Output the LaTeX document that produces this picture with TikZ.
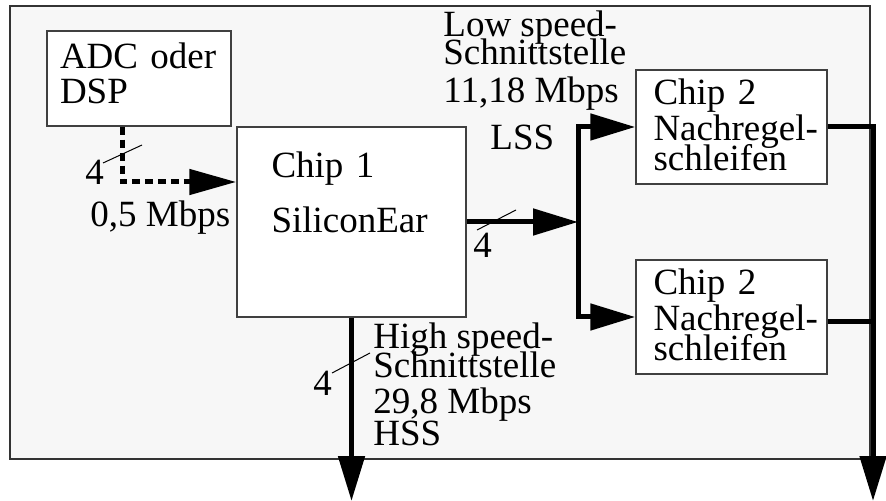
\documentclass[tikz,border=0pt]{standalone}
\usepackage{fontspec}
\setmainfont{Liberation Serif}
\usetikzlibrary{arrows.meta}
\usetikzlibrary{calc}

\begin{document}
\begin{tikzpicture}[x=0.5pt, y=-0.5pt,
    every node/.style={font=\fontsize{18.5pt}{18pt}\selectfont, inner sep=0pt},
    box/.style={draw=black!75, fill=white, line width=0.75pt, align=left},
    txt/.style={anchor=base west, align=left},
    bus/.style={line width=2.5pt},
    tip/.style={-{Triangle[length=22.5pt, width=13pt]}},
    ctrl/.style={line width=2.5pt, dash pattern=on 4pt off 2.5pt},
    slash/.style={line width=0.5pt}]
    \useasboundingbox (0,0) rectangle (886,501);
    \draw[draw=black!80, fill=black!3, line width=0.75pt] (10,6) rectangle (870,459);

    % boxes
    \node[box, minimum width=92pt, minimum height=47.5pt, text width=79pt, text depth=23pt] (adc) at (139,78.5) {ADC oder\\[-0.5pt]DSP};
    \node[box, minimum width=114.5pt, minimum height=95pt, text width=80pt, text depth=57.5pt] (chip1) at (351.5,222) {Chip 1\\[9.5pt]SiliconEar};
    \node[box, minimum width=95.5pt, minimum height=57pt, text width=78pt, text depth=35.5pt] (chip2a) at (731.5,127) {Chip 2\\\mbox{Nachregel-}\\[-3pt]schleifen};
    \node[box, minimum width=95.5pt, minimum height=57pt, text width=78pt, text depth=35.5pt] (chip2b) at (731.5,317) {Chip 2\\\mbox{Nachregel-}\\[-3pt]schleifen};

    \coordinate (bus) at (578,222);
    \coordinate (hssout) at (351.5,501);
    \coordinate (out) at (873,501);

    % connections
    \draw[ctrl, -{Triangle[length=23.5pt, width=12.5pt]}] ($(adc.south)+(-17,0)$) |- ($(chip1.west)+(0,-40)$);
    \draw[bus, tip] (chip1.east) -- (bus);
    \draw[bus, tip] (bus) |- (chip2a.west);
    \draw[bus, tip] (bus) |- (chip2b.west);
    \draw[bus, tip] (chip1.south) -- (hssout);
    \draw[bus, tip] (chip2a.east) -| (out);
    \draw[bus] ([yshift=-2.5pt]chip2b.east) -- ([yshift=-2.5pt]chip2b.east -| out);

    % bus width marks
    \draw[slash] (103,163) -- (142,145);
    \draw[slash] (477,230) -- (516,210);
    \draw[slash] (332,373) -- (370,353);
    \node[txt] (w1) at (85,185) {4};
    \node[txt] (w2) at (473,258) {4};
    \node[txt] (w3) at (313,395) {4};

    % labels
    \node[txt] (rate1) at (90,227) {0,5 Mbps};
    \node[txt] (lsstext) at (443,103) {Low speed-\\[-4pt]Schnittstelle\\[1pt]11,18 Mbps};
    \node[txt] (lss) at (490,150) {LSS};
    \node[txt] (hsstext) at (373,445) {High speed-\\[-3.5pt]Schnittstelle\\29,8 Mbps\\[-2pt]HSS};
\end{tikzpicture}
\end{document}
